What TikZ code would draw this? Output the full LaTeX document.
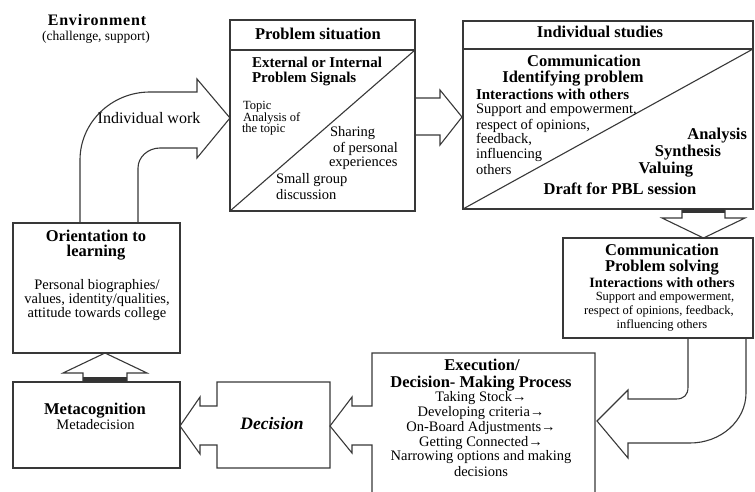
\documentclass[tikz,border=0pt]{standalone}
\usepackage{fontspec}
\setmainfont{Liberation Serif}
\newcommand\fH{\fontsize{16.5}{18}\selectfont\bfseries}
\newcommand\fS{\fontsize{15}{16}\selectfont\bfseries}
\newcommand\fB{\fontsize{14.5}{16}\selectfont}
\newcommand\fC{\fontsize{12.5}{14}\selectfont}
\begin{document}
\begin{tikzpicture}[x=1pt,y=-1pt,
  ln/.style={draw=black!78, line width=1.1pt, line join=miter},
  boxs/.style={ln, fill=white, inner sep=0pt, outer sep=0pt},
  t/.style={inner sep=0pt, outer sep=0pt, text=black},
  tc/.style={t, anchor=base},
  tl/.style={t, anchor=base west},
  tr/.style={t, anchor=base east},
  bar/.style={fill=black!80, draw=none}]
\useasboundingbox (0,0) rectangle (755,492);

% ---------- boxes ----------
\node[boxs, anchor=north west, minimum width=185pt, minimum height=191pt] (ps) at (230,20) {};
\node[boxs, anchor=north west, minimum width=290pt, minimum height=188pt] (is) at (463,21) {};
\node[boxs, anchor=north west, minimum width=190pt, minimum height=100pt] (comm) at (563,238) {};
\node[boxs, anchor=north west, minimum width=167pt, minimum height=130pt] (orient) at (13,223) {};
\node[boxs, anchor=north west, minimum width=167pt, minimum height=86pt] (meta) at (13,382) {};

% header lines and diagonals
\draw[ln] (ps.north west) ++(0,30) coordinate (psh) -- (ps.east |- psh) coordinate (pshr);
\draw[ln] (ps.south west) -- (pshr);
\draw[ln] (is.north west) ++(0,28) coordinate (ish) -- (is.east |- ish) coordinate (ishr);
\draw[ln] (is.south west) -- (ishr);

% execution box with its left-pointing arrow
\coordinate (ex) at (372,353);
\draw[ln] (372,492) -- (372,445) -- (352,445) -- (352,453) -- (330,426)
  -- (352,397) -- (352,406) -- (372,406) -- (ex) -- (595,353) -- (595,492);

% decision block arrow
\draw[ln] (217,382) -- (330,382) -- (330,468) -- (217,468) -- (217,445)
  -- (200,445) -- (200,454) -- (180,426) -- (200,397) -- (200,406) -- (217,406) -- cycle;
\node[t, font=\fontsize{17.5}{19}\selectfont\bfseries\itshape, anchor=base] (dec) at (272,429) {Decision};

% problem situation -> individual studies
\draw[ln] (ps.east |- 0,98) -- (440,98) -- (440,90) -- (462,117) -- (440,145) -- (440,135) -- (ps.east |- 0,135);

% individual studies -> communication
\fill[bar] (682,209) rectangle (725,213);
\draw[ln] (682,209) -- (682,218) -- (662,218) -- (703.5,238) -- (745,218) -- (725,218) -- (725,209);

% metacognition -> orientation
\fill[bar] (83,377) rectangle (127,382);
\draw[ln] (83,382) -- (83,373) -- (63,373) -- (105,353) -- (147,373) -- (127,373) -- (127,382);

% orientation -> problem situation (curved)
\draw[ln] (80,223) -- (80,160) .. controls (80,122.5) and (111.4,92) .. (150,92)
  -- (197,92) -- (197,79) -- (230,118) -- (197,158) -- (197,148) -- (160,148)
  .. controls (148,148) and (138,157) .. (138,168) -- (138,223);
\node[tc, font=\fontsize{16}{18}\selectfont] (iw) at (149,124) {Individual work};

% communication -> execution (curved)
\draw[ln] (688,338) -- (688,387) .. controls (688,395) and (684,399) .. (676,399)
  -- (628,399) -- (628,390) -- (597,421) -- (628,458) -- (628,443) -- (690,443)
  .. controls (721,443) and (746,420.6) .. (746,393) -- (746,338);

% ---------- texts ----------
\node[tc, font=\fontsize{16}{18}\selectfont\bfseries\addfontfeature{LetterSpace=5}] (env) at (97,26) {Environment};
\node[tc, font=\fontsize{13.5}{15}\selectfont] (envs) at (96,41) {(challenge, support)};

\node[tc, font=\fH] (pst) at (318,39.5) {Problem situation};
\node[tl, font=\fS] (ps1) at (252,68) {External or Internal};
\node[tl, font=\fS] (ps2) at (252,83) {Problem Signals};
\node[tl, font=\fC] (ps3) at (243,110) {Topic};
\node[tl, font=\fC] (ps4) at (243,122) {Analysis of};
\node[tl, font=\fC] (ps5) at (242,133) {the topic};
\node[tl, font=\fB] (ps6) at (330,137) {Sharing};
\node[tl, font=\fB] (ps7) at (333,153) {of personal};
\node[tl, font=\fB] (ps8) at (329,167) {experiences};
\node[tl, font=\fB] (ps9) at (276,183) {Small group};
\node[tl, font=\fB] (ps10) at (276,199) {discussion};

\node[tc, font=\fH] (ist) at (600,38) {Individual studies};
\node[tc, font=\fH] (is1) at (584,67) {Communication};
\node[tc, font=\fH] (is2) at (573,83) {Identifying problem};
\node[tl, font=\fS] (is3) at (476,100) {Interactions with others};
\node[tl, font=\fB] (is4) at (476,114) {Support and empowerment,};
\node[tl, font=\fB] (is5) at (476,130) {respect of opinions,};
\node[tl, font=\fB] (is6) at (476,143) {feedback,};
\node[tl, font=\fB] (is7) at (476,158) {influencing};
\node[tl, font=\fB] (is8) at (476,175) {others};
\node[tr, font=\fH] (is9) at (747,140) {Analysis};
\node[tr, font=\fH] (is10) at (721,157) {Synthesis};
\node[tr, font=\fH] (is11) at (693,173) {Valuing};
\node[tc, font=\fH] (is12) at (620,194) {Draft for PBL session};

\node[tc, font=\fH] (c1) at (662,255) {Communication};
\node[tc, font=\fH] (c2) at (662,271.5) {Problem solving};
\node[tc, font=\fontsize{14.2}{16}\selectfont\bfseries] (c3) at (662,287.5) {Interactions with others};
\node[tc, font=\fC] (c4) at (665,300) {Support and empowerment,};
\node[tc, font=\fC] (c5) at (659,314) {respect of opinions, feedback,};
\node[tc, font=\fC] (c6) at (662,328) {influencing others};

\node[tc, font=\fH] (o1) at (96,241.5) {Orientation to};
\node[tc, font=\fH] (o2) at (96,256.5) {learning};
\node[tc, font=\fB] (o3) at (97,289) {Personal biographies/};
\node[tc, font=\fB] (o4) at (97,303) {values, identity/qualities,};
\node[tc, font=\fB] (o5) at (97,317.5) {attitude towards college};

\node[tc, font=\fH] (m1) at (95,414) {Metacognition};
\node[tc, font=\fB] (m2) at (95.5,429) {Metadecision};

\node[tc, font=\fH] (e1) at (482,370.5) {Execution/};
\node[tc, font=\fH] (e2) at (481,387) {Decision- Making Process};
\node[tc, font=\fB] (e3) at (481,401.5) {Taking Stock→};
\node[tc, font=\fB] (e4) at (481,416.5) {Developing criteria→};
\node[tc, font=\fB] (e5) at (481,431.5) {On-Board Adjustments→};
\node[tc, font=\fB] (e6) at (481,446) {Getting Connected→};
\node[tc, font=\fB] (e7) at (481,460.5) {Narrowing options and making};
\node[tc, font=\fB] (e8) at (481,476.5) {decisions};
\end{tikzpicture}
\end{document}
